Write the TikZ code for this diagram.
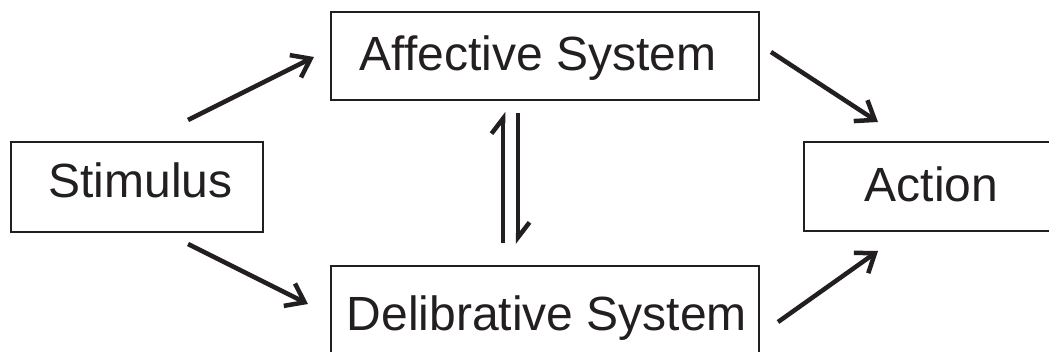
\documentclass[tikz,border=0pt]{standalone}
\usepackage{fontspec}
\setmainfont{Liberation Sans}
\usetikzlibrary{arrows.meta}
\definecolor{ink}{HTML}{231F20}
\begin{document}
\begin{tikzpicture}[x=1pt,y=-1pt,
  box/.style={draw=ink,line width=2pt,rectangle,inner sep=0pt},
  lbl/.style={font=\fontsize{48}{58}\selectfont,text=ink,inner sep=0pt,anchor=base},
  arr/.style={draw=ink,line width=4.5pt,-{Straight Barb[length=17pt,width=25pt]}},
  harp/.style={draw=ink,line width=4.5pt,-{Straight Barb[left,length=15pt,width=23pt]}}]
\useasboundingbox (0,0) rectangle (1049,352);
\clip (0,0) rectangle (1049,352);
\fill[white] (0,0) rectangle (1049,352);
% boxes
\node[box,minimum width=252pt,minimum height=90pt] (stim) at (137,187) {};
\node[box,minimum width=428pt,minimum height=88pt] (aff) at (545,56) {};
\node[box,minimum width=428pt,minimum height=96pt] (del) at (545,314) {};
\node[box,minimum width=255pt,minimum height=89pt] (act) at (931.5,186.5) {};
% labels
\node[lbl] (stimt) at (140.5,198) {Stimulus};
\node[lbl] (afft) at (538,71) {Affective System};
\node[lbl] (delt) at (547,331) {Delibrative System};
\node[lbl] (actt) at (931.5,202) {Action};
% connector end points
\coordinate (sa1) at (188,120); \coordinate (sa2) at (314,57);
\coordinate (sd1) at (188,244); \coordinate (sd2) at (308,304);
\coordinate (aa1) at (771,52);  \coordinate (aa2) at (878,122);
\coordinate (da1) at (778,322); \coordinate (da2) at (878,251);
\coordinate (hu1) at (503,243); \coordinate (hu2) at (503,112);
\coordinate (hd1) at (518,113); \coordinate (hd2) at (518,244);
% connectors
\draw[arr] (sa1) -- (sa2);
\draw[arr] (sd1) -- (sd2);
\draw[arr] (aa1) -- (aa2);
\draw[arr] (da1) -- (da2);
\draw[harp] (hu1) -- (hu2);
\draw[harp] (hd1) -- (hd2);
\end{tikzpicture}
\end{document}
